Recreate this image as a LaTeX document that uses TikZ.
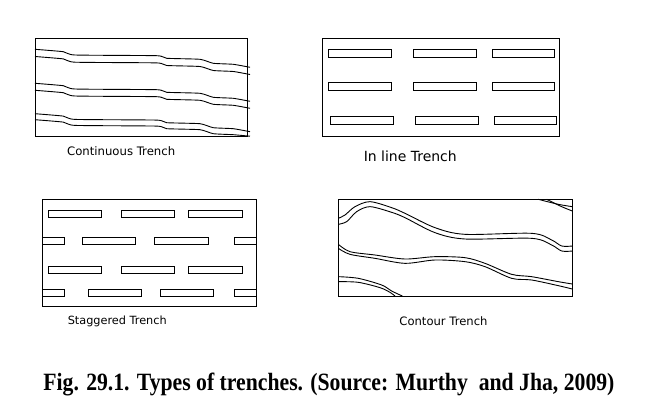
\documentclass[tikz,border=0pt]{standalone}
\usepackage{fontspec}
\setmainfont{Liberation Serif}
\newfontfamily\capfont{DejaVu Sans}
\begin{document}
\begin{tikzpicture}[x=1pt,y=-1pt,line width=0.9pt,
  trench/.style={draw,line width=0.9pt},
  caplabel/.style={anchor=west,inner sep=0pt,font=\capfont\fontsize{11}{13}\selectfont},
  figcap/.style={anchor=base west,inner sep=0pt,font=\bfseries\fontsize{20}{24}\selectfont}]
\useasboundingbox (0,0) rectangle (672,404);
\fill[white] (0,0) rectangle (672,404);

% Panel 1: continuous trench
\draw (35,38) rectangle (247,136);
\foreach \y/\e in {49.3/0,56.5/0,83.3/0,90.3/0,113.7/0,119.7/-1.5}{
  \draw plot[smooth,tension=0.3] coordinates {(35,\y) (63.3,\y+2.4) (75,\y+5.7) (156.7,\y+6.4) (166.7,\y+9) (200,\y+10) (213.3,\y+14) (233.3,\y+15) (250,\y+18+\e)};
}
\node[caplabel] (c1) at (66.7,151) {\resizebox{108pt}{!}{Continuous Trench}};

% Panel 2: in line trench
\draw (322.3,38.3) rectangle (559.3,136);
\foreach \y in {49.3,82.7}{
  \foreach \a/\b in {328.3/391.7,413.3/476.7,492.3/554.3}{
    \draw[trench] (\a,\y) rectangle (\b,\y+8);
  }
}
\foreach \a/\b in {330.7/393.3,415.3/478.3,494.3/556.7}{
  \draw[trench] (\a,116.7) rectangle (\b,124.3);
}
\node[caplabel] (c2) at (363.3,156.5) {\resizebox{93pt}{!}{In line Trench}};

% Panel 3: staggered trench
\draw (42.7,199.3) rectangle (256.7,306.7);
\foreach \y in {210.7,266.7}{
  \foreach \a/\b in {48.3/101.7,121/174.3,188.3/242.3}{
    \draw[trench] (\a,\y) rectangle (\b,\y+6.7);
  }
}
\foreach \a/\b in {82.3/135.7,154.3/208.3}{
  \draw[trench] (\a,237.7) rectangle (\b,244.3);
}
\foreach \a/\b in {88.3/141,160/213.3}{
  \draw[trench] (\a,289) rectangle (\b,296.7);
}
\foreach \y/\h in {237.7/6.6,289/7.7}{
  \draw (42.7,\y) -- (64.3,\y) -- (64.3,\y+\h) -- (42.7,\y+\h);
  \draw (256.7,\y) -- (234.3,\y) -- (234.3,\y+\h) -- (256.7,\y+\h);
}
\node[caplabel] (c3) at (67.3,321) {\resizebox{99pt}{!}{Staggered Trench}};

% Panel 4: contour trench
\draw (338.3,199.3) rectangle (572.3,296);
\begin{scope}[shift={(325,185)},scale=1/3]
  \draw plot[smooth,tension=0.5] coordinates {(40,100) (60,90) (90,65) (135,50) (200,68) (240,85) (330,128) (420,148) (620,145) (680,165) (710,183) (742,183)};
  \draw plot[smooth,tension=0.5] coordinates {(40,118) (65,110) (95,80) (135,65) (200,82) (240,98) (330,143) (420,162) (620,160) (680,180) (710,198) (742,198)};
  \draw plot[smooth,tension=0.5] coordinates {(640,43) (700,58) (742,65)};
  \draw plot[smooth,tension=0.5] coordinates {(665,43) (710,65) (742,78)};
  \draw plot[smooth,tension=0.5] coordinates {(40,178) (75,200) (150,210) (240,222) (330,215) (420,218) (480,235) (560,268) (620,275) (700,290) (742,297)};
  \draw plot[smooth,tension=0.5] coordinates {(40,190) (75,208) (150,220) (240,235) (330,225) (420,230) (480,245) (560,280) (620,285) (700,302) (742,312)};
  \draw plot[smooth,tension=0.5] coordinates {(40,275) (100,280) (170,300) (200,318) (232,333)};
  \draw plot[smooth,tension=0.5] coordinates {(40,290) (100,292) (165,308) (195,322) (210,333)};
\end{scope}
\node[caplabel] (c4) at (399,320.7) {\resizebox{88pt}{!}{Contour Trench}};

% Figure caption
\node[figcap] (fig) at (43,390) {\resizebox{571pt}{17.5pt}{Fig. 29.1. Types of trenches. (Source: Murthy\ \ and Jha, 2009)}};
\end{tikzpicture}
\end{document}
